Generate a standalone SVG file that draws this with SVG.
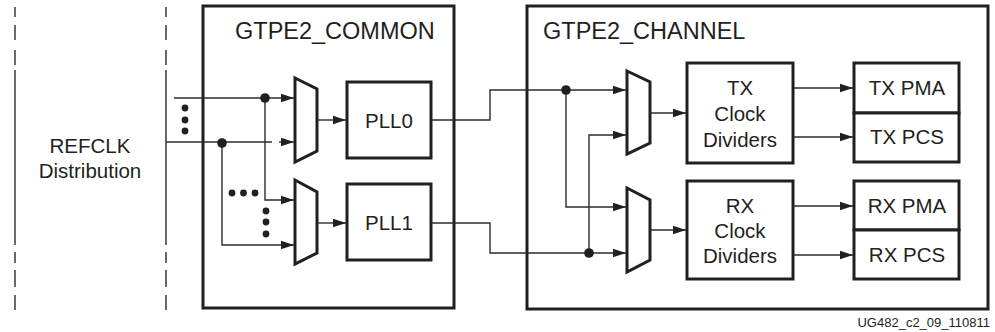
<svg xmlns="http://www.w3.org/2000/svg" width="995" height="332" viewBox="0 0 995 332">
<style>
text{font-family:"Liberation Sans",Arial,sans-serif;fill:#231f20}
.box{fill:#fff;stroke:#231f20;stroke-width:3}
.mux{fill:#fff;stroke:#231f20;stroke-width:3;stroke-linejoin:miter}
.w{fill:none;stroke:#2b2b2b;stroke-width:1.4}
.d{fill:none;stroke:#444;stroke-width:1.6}
.t20{font-size:20.5px;text-anchor:middle}
.ttl{font-size:23.5px}
</style>
<defs>
<marker id="ah" markerWidth="14" markerHeight="10" refX="13" refY="5" orient="auto" markerUnits="userSpaceOnUse">
<path d="M0,0.8 L13,5 L0,9.2 Z" fill="#231f20"/>
</marker>
</defs>
<g id="refclk">
<g class="d">
<path d="M15,7V17M15,25V40M15,50V65M15,70V245M15,252V263M15,270V287M15,295V310"/>
<path d="M166,7V17M166,25V40M166,50V65M166,70V245M166,252V263M166,270V287M166,295V310"/>
</g>
<text class="t20" x="90" y="153">REFCLK</text>
<text class="t20" x="90" y="178">Distribution</text>
</g>
<g id="common">
<rect class="box" x="203" y="6" width="251" height="302"/>
<text class="ttl" x="235" y="39">GTPE2_COMMON</text>
</g>
<g id="mux0"><path class="mux" d="M295,78 L317,89 L317,151 L295,162 Z"/></g>
<g id="mux1"><path class="mux" d="M295,180 L317,192 L317,253 L295,264 Z"/></g>
<g id="pll0"><rect class="box" x="347" y="82" width="84" height="76"/><text class="t20" x="389" y="128">PLL0</text></g>
<g id="pll1"><rect class="box" x="347" y="184" width="84" height="76"/><text class="t20" x="389" y="230">PLL1</text></g>
<g id="channel">
<rect class="box" x="527" y="6" width="461" height="303"/>
<text class="ttl" x="543" y="39">GTPE2_CHANNEL</text>
</g>
<g id="mux2"><path class="mux" d="M627,71 L650,82 L650,143 L627,154 Z"/></g>
<g id="mux3"><path class="mux" d="M627,188 L650,200 L650,260 L627,272 Z"/></g>
<g id="txdiv"><rect class="box" x="687" y="63" width="106" height="100"/>
<text class="t20" x="740" y="95">TX</text><text class="t20" x="740" y="121">Clock</text><text class="t20" x="740" y="147">Dividers</text></g>
<g id="rxdiv"><rect class="box" x="687" y="181" width="106" height="98"/>
<text class="t20" x="740" y="213">RX</text><text class="t20" x="740" y="238">Clock</text><text class="t20" x="740" y="263">Dividers</text></g>
<g id="txpma"><rect class="box" x="854" y="63" width="105" height="50"/><text class="t20" x="907" y="95">TX PMA</text></g>
<g id="txpcs"><rect class="box" x="854" y="113" width="105" height="49"/><text class="t20" x="907" y="144">TX PCS</text></g>
<g id="rxpma"><rect class="box" x="854" y="181" width="105" height="49"/><text class="t20" x="907" y="213">RX PMA</text></g>
<g id="rxpcs"><rect class="box" x="854" y="230" width="105" height="49"/><text class="t20" x="907" y="262">RX PCS</text></g>
<g id="connectors">
<g class="w">
<path d="M174,98H294" marker-end="url(#ah)"/>
<path d="M166,142H272"/>
<path d="M279,142H294" marker-end="url(#ah)"/>
<path d="M265,98V200H294" marker-end="url(#ah)"/>
<path d="M222,142V245H294" marker-end="url(#ah)"/>
<path d="M317,120H346" marker-end="url(#ah)"/>
<path d="M317,223H346" marker-end="url(#ah)"/>
<path d="M431,120H490V90H626" marker-end="url(#ah)"/>
<path d="M431,223H490V253H626" marker-end="url(#ah)"/>
<path d="M566,90V207H626" marker-end="url(#ah)"/>
<path d="M589,253V135H626" marker-end="url(#ah)"/>
<path d="M650,113H686" marker-end="url(#ah)"/>
<path d="M650,230H686" marker-end="url(#ah)"/>
<path d="M793,88H853" marker-end="url(#ah)"/>
<path d="M793,137H853" marker-end="url(#ah)"/>
<path d="M793,206H853" marker-end="url(#ah)"/>
<path d="M793,255H853" marker-end="url(#ah)"/>
</g>
<g fill="#231f20">
<circle cx="265" cy="98" r="4.8"/>
<circle cx="222" cy="143" r="4.8"/>
<circle cx="566" cy="90" r="4.8"/>
<circle cx="589" cy="253" r="4.8"/>
<circle cx="185" cy="108" r="3.4"/><circle cx="185" cy="120" r="3.4"/><circle cx="185" cy="131" r="3.4"/>
<circle cx="232" cy="193" r="3.4"/><circle cx="243.5" cy="193" r="3.4"/><circle cx="255" cy="193" r="3.4"/>
<circle cx="266" cy="211" r="3.4"/><circle cx="266" cy="222" r="3.4"/><circle cx="266" cy="234" r="3.4"/>
</g>
</g>
<text x="990" y="327" font-size="13" text-anchor="end">UG482_c2_09_110811</text>
</svg>
